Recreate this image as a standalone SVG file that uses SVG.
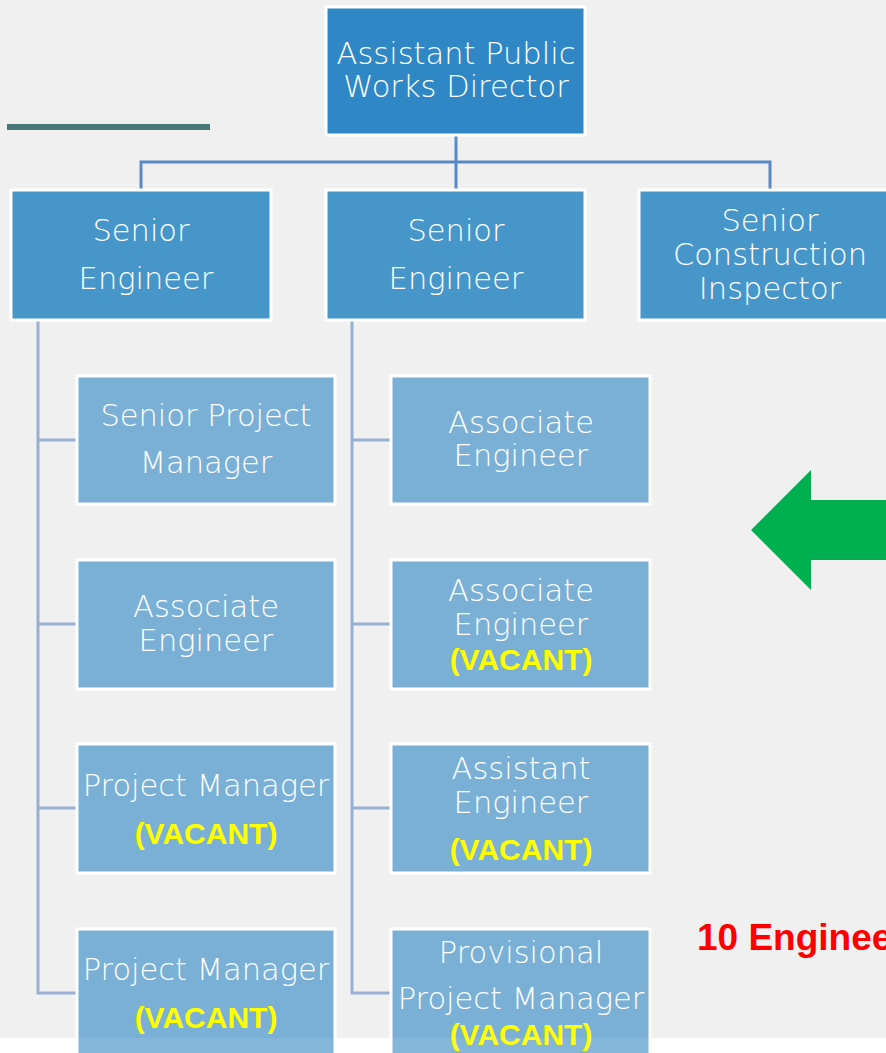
<svg xmlns="http://www.w3.org/2000/svg" width="886" height="1053" viewBox="0 0 886 1053">
<style>
.bg{fill:#f0f0f0}
.b0{fill:#2f88c5;stroke:#ffffff;stroke-width:3}
.b1{fill:#4796ca;stroke:#ffffff;stroke-width:3}
.b2{fill:#7ab0d6;stroke:#ffffff;stroke-width:3}
.t{font-family:"DejaVu Sans","Open Sans",sans-serif;font-weight:200;font-size:30.5px;fill:#ffffff;text-anchor:middle}
.v{font-family:"Liberation Sans",Arial,sans-serif;font-weight:bold;font-size:30px;fill:#ffff00;text-anchor:middle}
.c1{fill:none;stroke:#5b89c7;stroke-width:3}
.c2{fill:none;stroke:#98b0d4;stroke-width:3}
</style>
<rect class="bg" x="0" y="0" width="886" height="1038"/>
<rect x="0" y="1038" width="886" height="15" fill="#ffffff"/>
<rect x="7" y="124" width="203" height="6" fill="#477878"/>
<g id="connectors">
<path class="c1" d="M456 135V162M141 190V162H770V190M456 162V190"/>
<path class="c2" d="M38 320V993H77M38 440H77M38 624H77M38 808H77"/>
<path class="c2" d="M352 320V993H391M352 440H391M352 624H391M352 808H391"/>
</g>
<g id="n-apwd"><rect class="b0" x="326" y="7" width="259" height="128"/><text class="t" x="456" y="64">Assistant Public</text><text class="t" x="456" y="97">Works Director</text></g>
<g id="n-se1"><rect class="b1" x="11" y="190" width="260" height="130"/><text class="t" x="141" y="241">Senior</text><text class="t" x="146" y="289">Engineer</text></g>
<g id="n-se2"><rect class="b1" x="326" y="190" width="259" height="130"/><text class="t" x="456" y="241">Senior</text><text class="t" x="456" y="289">Engineer</text></g>
<g id="n-sci"><rect class="b1" x="639" y="190" width="260" height="130"/><text class="t" x="770" y="231">Senior</text><text class="t" x="770" y="265">Construction</text><text class="t" x="770" y="299">Inspector</text></g>
<g id="n-spm"><rect class="b2" x="77" y="376" width="258" height="128"/><text class="t" x="206" y="426">Senior Project</text><text class="t" x="206" y="473">Manager</text></g>
<g id="n-ae1"><rect class="b2" x="77" y="560" width="258" height="129"/><text class="t" x="206" y="617">Associate</text><text class="t" x="206" y="651">Engineer</text></g>
<g id="n-pm1"><rect class="b2" x="77" y="744" width="258" height="129"/><text class="t" x="206" y="796">Project Manager</text><text class="v" x="206" y="844">(VACANT)</text></g>
<g id="n-pm2"><rect class="b2" x="77" y="929" width="258" height="130"/><text class="t" x="206" y="980">Project Manager</text><text class="v" x="206" y="1028">(VACANT)</text></g>
<g id="n-ae2"><rect class="b2" x="391" y="376" width="259" height="128"/><text class="t" x="521" y="433">Associate</text><text class="t" x="521" y="466">Engineer</text></g>
<g id="n-ae3"><rect class="b2" x="391" y="560" width="259" height="129"/><text class="t" x="521" y="601">Associate</text><text class="t" x="521" y="635">Engineer</text><text class="v" x="521" y="670">(VACANT)</text></g>
<g id="n-ase"><rect class="b2" x="391" y="744" width="259" height="129"/><text class="t" x="521" y="779">Assistant</text><text class="t" x="521" y="813">Engineer</text><text class="v" x="521" y="860">(VACANT)</text></g>
<g id="n-ppm"><rect class="b2" x="391" y="929" width="259" height="130"/><text class="t" x="521" y="963">Provisional</text><text class="t" x="521" y="1009">Project Manager</text><text class="v" x="521" y="1045">(VACANT)</text></g>
<rect x="0" y="1038" width="886" height="15" fill="#ffffff" opacity="0.08"/>
<polygon points="751,530 811,470 811,500 886,500 886,560 811,560 811,590" fill="#00b050"/>
<text x="697" y="950" font-family="'Liberation Sans',Arial,sans-serif" font-weight="bold" font-size="37" fill="#ff0000">10 Engineers</text>
</svg>
